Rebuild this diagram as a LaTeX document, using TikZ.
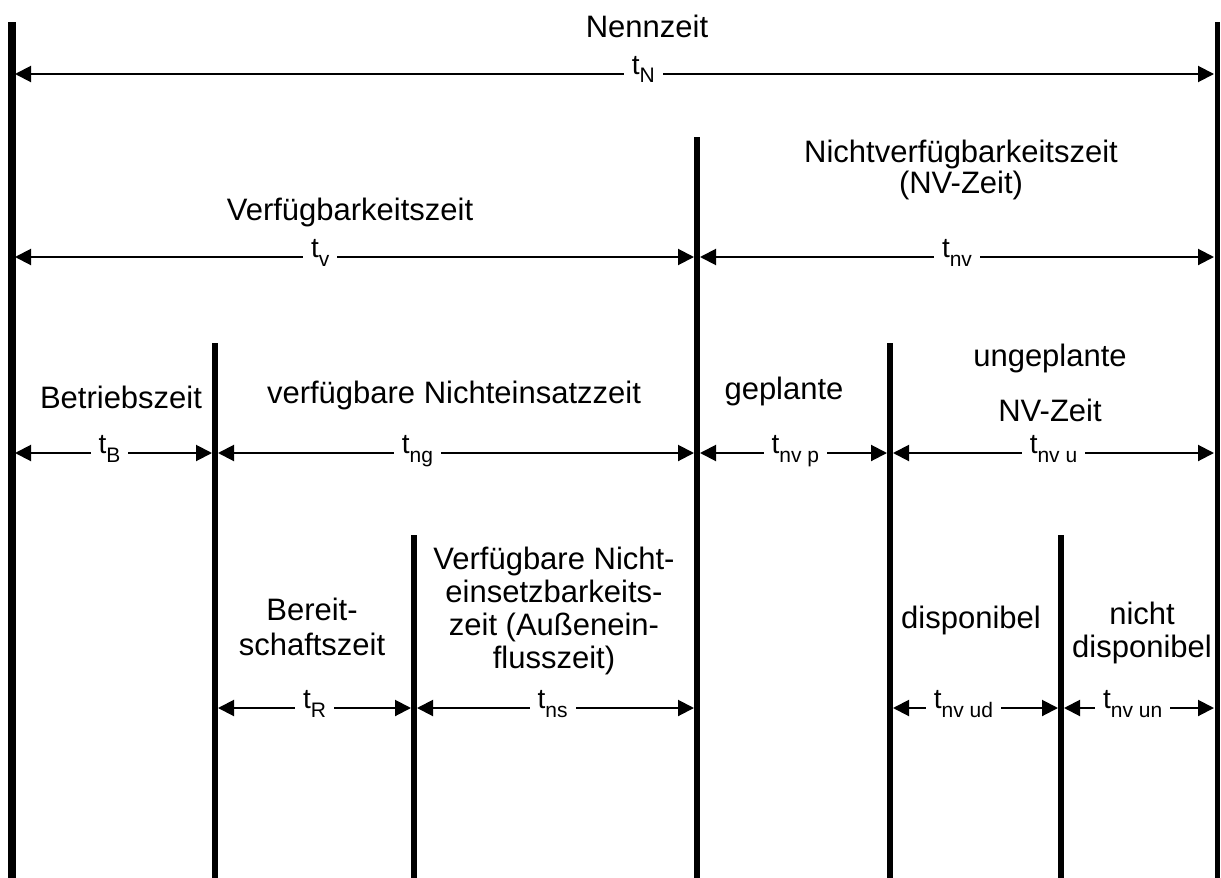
\documentclass[tikz,border=0pt]{standalone}
\usepackage{fontspec}
\setmainfont{Liberation Sans}
\usetikzlibrary{arrows.meta}
\newcommand{\tsub}[1]{t\raisebox{-9pt}{\fontsize{21}{21}\selectfont #1}}

\begin{document}
\begin{tikzpicture}[
        x=1pt, y=-1pt,
        bar/.style={line width=#1, line cap=butt},
        dimline/.style={{Triangle[length=16pt,width=16pt]}-{Triangle[length=16pt,width=16pt]},
            line width=2pt, shorten <=3pt, shorten >=3pt},
        tlab/.style={fill=white, inner xsep=8pt, inner ysep=1pt, anchor=base,
            font=\fontsize{28}{28}\selectfont},
        txt/.style={anchor=base, align=center, inner sep=0pt,
            font=\fontsize{31}{33}\selectfont}
    ]
        \fill[white] (0,0) rectangle (1221,878);
        \useasboundingbox (0,0) rectangle (1221,878);
        % tops of the bars and heights of the rows
        \coordinate (b0) at (12,22);
        \coordinate (b1) at (215,343);
        \coordinate (b2) at (414,535);
        \coordinate (b3) at (697,137);
        \coordinate (b4) at (890,343);
        \coordinate (b5) at (1061,535);
        \coordinate (b6) at (1217,22);
        \coordinate (bot) at (0,878);
        \coordinate (r1) at (0,74);
        \coordinate (r2) at (0,257);
        \coordinate (r3) at (0,453);
        \coordinate (r4) at (0,708);
        \foreach \b/\w in {b0/8pt, b1/6pt, b2/6pt, b3/6pt, b4/6pt, b5/6pt, b6/5pt}
            \draw[bar=\w] (\b) -- (\b |- bot);

        % Nennzeit (base = baseline of the last line)
        \node[txt] (nenn) at (647,37) {Nennzeit};
        \draw[dimline] (b0 |- r1) -- (b6 |- r1) node[tlab, pos=0.524] (tN) {\tsub{N}};

        % Verfuegbarkeit
        \node[txt] (verf) at (350,220) {Verfügbarkeitszeit};
        \node[txt] (nverf) at (961,193) {Nichtverfügbarkeitszeit\\[-2pt](NV-Zeit)};
        \draw[dimline] (b0 |- r2) -- (b3 |- r2) node[tlab, pos=0.45] (tv) {\tsub{v}};
        \draw[dimline] (b3 |- r2) -- (b6 |- r2) node[tlab, pos=0.5] (tnv) {\tsub{nv}};

        % dritte Ebene
        \node[txt] (betr) at (121,408) {Betriebszeit};
        \node[txt] (vne) at (454,403) {verfügbare Nichteinsatzzeit};
        \node[txt] (gepl) at (784,399) {geplante};
        \node[txt] (ungepl) at (1050,421) {ungeplante\\[22pt]NV-Zeit};
        \draw[dimline] (b0 |- r3) -- (b1 |- r3) node[tlab, pos=0.48] (tB) {\tsub{B}};
        \draw[dimline] (b1 |- r3) -- (b3 |- r3) node[tlab, pos=0.42] (tng) {\tsub{ng}};
        \draw[dimline] (b3 |- r3) -- (b4 |- r3) node[tlab, pos=0.51] (tnvp) {\tsub{nv p}};
        \draw[dimline] (b4 |- r3) -- (b6 |- r3) node[tlab, pos=0.5] (tnvu) {\tsub{nv u}};

        % vierte Ebene
        \node[txt] (bereit) at (312,655) {Bereit-\\[2pt]schaftszeit};
        \node[txt] (aussen) at (554,668) {Verfügbare Nicht-\\einsetzbarkeits-\\zeit (Außenein-\\flusszeit)};
        \node[txt] (disp) at (971,628) {disponibel};
        \node[txt] (ndisp) at (1142,657) {nicht\\disponibel};
        \draw[dimline] (b1 |- r4) -- (b2 |- r4) node[tlab, pos=0.5] (tR) {\tsub{R}};
        \draw[dimline] (b2 |- r4) -- (b3 |- r4) node[tlab, pos=0.49] (tns) {\tsub{ns}};
        \draw[dimline] (b4 |- r4) -- (b5 |- r4) node[tlab, pos=0.43] (tnvud) {\tsub{nv ud}};
        \draw[dimline] (b5 |- r4) -- (b6 |- r4) node[tlab, pos=0.46] (tnvun) {\tsub{nv un}};
    \end{tikzpicture}
\end{document}
